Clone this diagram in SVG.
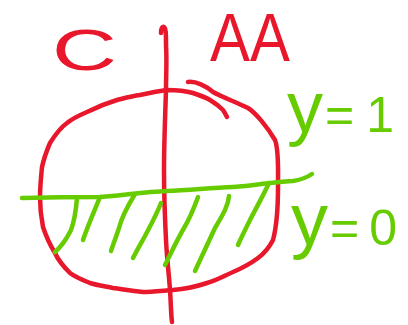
<svg xmlns="http://www.w3.org/2000/svg" width="408" height="325" viewBox="0 0 408 325">
<style>
.r{fill:none;stroke:#e8172b;stroke-width:4.5;stroke-linecap:round;stroke-linejoin:round}
.g{fill:none;stroke:#66cc00;stroke-width:4.5;stroke-linecap:round;stroke-linejoin:round}
.tr{fill:#e8172b;font-family:"Liberation Sans",Arial,sans-serif}
.tg{fill:#66cc00;font-family:"Liberation Sans",Arial,sans-serif}
</style>
<rect width="408" height="325" fill="#fff"/>
<g id="circle">
<path class="r" d="M188,82 C196,81 206,86 213,92 C222,97 238,103 248,108 C256,113 268,128 275,140 C279,150 278,170 278,187 C278,205 277,225 273,240 C268,250 262,255 258,258 C250,264 240,269 233,272 C222,277 215,281 207,283 C195,287 185,289 173,290 C160,291 150,292 143,292 C130,291 122,289 113,288 C103,286 96,285 90,283 C80,279 75,277 70,273 C63,266 58,260 55,253 C50,245 46,236 43,227 C41,217 40,207 40,197 C40,187 41,177 42,167 C44,158 47,150 50,143 C55,135 60,128 67,123 C73,118 80,115 87,112 C97,107 107,103 117,100 C125,98 132,96 140,95 C149,93 158,91 167,90 C176,90 186,91 193,93 C199,95 205,97 210,100 C215,103 220,107 223,110 C225,113 226,115 227,117"/>
</g>
<g id="axis">
<path class="r" d="M161,33 C161,29 162,26 164,27 C166,28 166,34 166,45 C167,60 166,75 166,90 C165,120 164,145 164,170 C164,195 165,220 166,240 C167,260 169,275 170,290 C171,305 171,315 172,322"/>
</g>
<g id="line">
<path class="g" d="M22,198 C60,197 80,197 100,197 C125,195 145,192 167,191 C190,190 210,188 233,187 C250,186 260,184 270,183 C282,182 288,181 293,181 C300,180 306,178 312,174"/>
</g>
<g id="hatch">
<path class="g" d="M77,198 C76,210 74,222 71,230 C67,238 62,246 55,252"/>
<path class="g" d="M100,197 C94,212 88,225 83,240"/>
<path class="g" d="M135,194 C127,207 121,220 119,228 C116,237 113,245 111,251"/>
<path class="g" d="M161,203 C155,218 149,228 145,236 C140,245 136,252 133,258"/>
<path class="g" d="M198,197 C194,208 190,218 184,228 C176,242 170,255 165,265"/>
<path class="g" d="M229,196 C228,207 222,216 215,228 C207,245 200,260 195,271"/>
<path class="g" d="M269,183 C262,198 255,210 250,220 C245,230 241,238 238,245"/>
</g>
<g id="labels">
<text class="tr" font-size="58" transform="translate(52,70) scale(1.55,1)">C</text>
<text class="tr" font-size="68" transform="translate(210,61) scale(0.88,1)">AA</text>
<text class="tg" x="287" y="132"><tspan font-size="72">y</tspan><tspan font-size="50" dx="2">=</tspan><tspan font-size="50" dx="12">1</tspan></text>
<text class="tg" x="291" y="245"><tspan font-size="74">y</tspan><tspan font-size="50" dx="2">=</tspan><tspan font-size="50" dx="10">0</tspan></text>
</g>
</svg>
